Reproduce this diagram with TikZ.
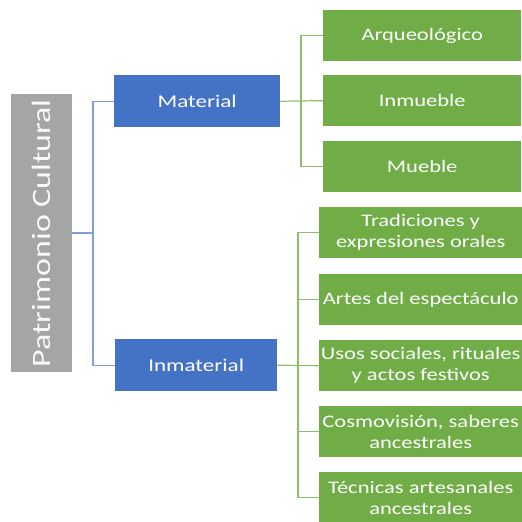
\documentclass[tikz,border=0pt]{standalone}
\usepackage{fontspec}
\setmainfont{Carlito}[FakeStretch=1.28]
\definecolor{grayb}{HTML}{A5A5A5}
\definecolor{blueb}{HTML}{4472C4}
\definecolor{greenb}{HTML}{70AD47}
\definecolor{bluel}{HTML}{7F9FD8}
\definecolor{greenl}{HTML}{8DBE6A}
\begin{document}
\begin{tikzpicture}[x=1pt,y=-1pt,
  box/.style={inner sep=0pt, text=white, align=center},
  bline/.style={draw=bluel, line width=1.2pt},
  gline/.style={draw=greenl, line width=1.2pt}]
\useasboundingbox (0,0) rectangle (522,522);
% root
\node[box, fill=grayb, minimum width=61pt, minimum height=278pt, anchor=north west] (root) at (11,94) {};
\node[rotate=90, text=white!95!gray, font=\fontsize{26.5}{32}\selectfont] (roottxt) at (root.center) {Patrimonio Cultural};
% level 1
\node[box, fill=blueb, minimum width=166pt, minimum height=52pt, anchor=north west, font=\fontsize{18}{21}\selectfont] (mat) at (114,75) {Material};
\node[box, fill=blueb, minimum width=162pt, minimum height=52pt, anchor=north west, font=\fontsize{18}{21}\selectfont] (inm) at (115,339) {Inmaterial};
% level 2 material
\tikzset{gbox/.style={box, fill=greenb, minimum width=198pt, minimum height=51pt, anchor=north west, font=\fontsize{17.6}{21}\selectfont}}
\node[gbox] (arq) at (323,10) {Arqueológico};
\node[gbox] (inmu) at (323,75) {Inmueble};
\node[gbox] (mue) at (323,141) {Mueble};
% level 2 inmaterial
\tikzset{hbox/.style={box, fill=greenb, minimum width=203pt, minimum height=51pt, anchor=north west, font=\fontsize{17.6}{21}\selectfont}}
\node[hbox] (tra) at (319,207) {Tradiciones y\\expresiones orales};
\node[hbox] (art) at (319,274) {Artes del espectáculo};
\node[hbox] (uso) at (319,340) {Usos sociales, rituales\\y actos festivos};
\node[hbox] (cos) at (319,406) {Cosmovisión, saberes\\ancestrales};
\node[hbox] (tec) at (319,472) {Técnicas artesanales\\ancestrales};
% connectors
\coordinate (rj) at (93,233);
\draw[bline] (root.east |- rj) -- (rj);
\draw[bline] (mat.west) -| (rj) |- (inm.west);
\coordinate (mj) at (301,100);
\draw[gline] (mat.east) -- (inmu.west);
\draw[gline] (arq.west) -| (mj) |- (mue.west);
\coordinate (ij) at (298,365);
\draw[gline] (inm.east) -- (uso.west);
\draw[gline] (tra.west) -| (ij) |- (tec.west);
\draw[gline] (art.west) -- (art.west -| ij);
\draw[gline] (cos.west) -- (cos.west -| ij);
\end{tikzpicture}
\end{document}
